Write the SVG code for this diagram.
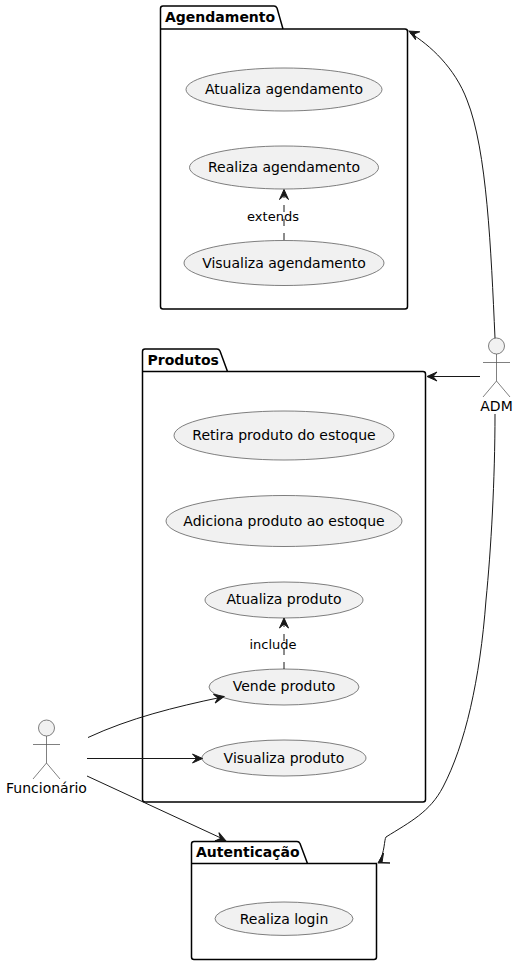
<svg xmlns="http://www.w3.org/2000/svg" width="518" height="965" viewBox="0 0 518 965">
<style>
text{font-family:"DejaVu Sans",sans-serif;font-size:14px;fill:#000}
.pk{fill:#fff;stroke:#000;stroke-width:1.5}
.pt{font-weight:bold}
.uc{fill:#f1f1f1;stroke:#555;stroke-width:.75}
.uc-t{text-anchor:middle}
.act{fill:none;stroke:#555;stroke-width:.75}
.head{fill:#f1f1f1;stroke:#555;stroke-width:.75}
.c{fill:none;stroke:#181818;stroke-width:1}
.d{stroke-dasharray:7,7}
.l{font-size:13px;text-anchor:middle}
.ah{fill:#181818;stroke:#181818;stroke-width:1}
</style>
<defs>
<path id="tip" d="M0,0 L-10,-4.500 L-6,0 L-10,4.500 Z"/>
</defs>
<g id="pkg-agendamento">
<path class="pk" d="M163,6 H274 Q276,6 277,8 L283,29 H405 Q407.500,29 407.500,31.500 V306.500 Q407.500,309 405,309 H163 Q160.500,309 160.500,306.500 V8.500 Q160.500,6 163,6 Z M160.500,29 H283"/>
<text class="pt" x="165" y="21.500">Agendamento</text>
</g>
<g id="pkg-produtos">
<path class="pk" d="M145,349 H217 Q219,349 220,351 L227.500,371.500 H423 Q425.500,371.500 425.500,374 V799.500 Q425.500,802 423,802 H145 Q142.500,802 142.500,799.500 V351.500 Q142.500,349 145,349 Z M142.500,371.500 H227.500"/>
<text class="pt" x="147.500" y="364.500">Produtos</text>
</g>
<g id="pkg-autenticacao">
<path class="pk" d="M194,841.500 H297 Q299,841.500 300,843.500 L307.500,863.500 H376.500 V957 Q376.500,959.500 374,959.500 H194 Q191.500,959.500 191.500,957 V844 Q191.500,841.500 194,841.500 Z M191.500,863.500 H307.500"/>
<text class="pt" x="196" y="857">Autenticação</text>
</g>
<g id="uc-atualiza-agendamento"><ellipse class="uc" cx="284" cy="89.500" rx="98" ry="21.500"/><text class="uc-t" x="284" y="94">Atualiza agendamento</text></g>
<g id="uc-realiza-agendamento"><ellipse class="uc" cx="284" cy="167.500" rx="94.500" ry="21.500"/><text class="uc-t" x="284" y="172">Realiza agendamento</text></g>
<g id="uc-visualiza-agendamento"><ellipse class="uc" cx="284" cy="263" rx="100" ry="22.500"/><text class="uc-t" x="284" y="267.500">Visualiza agendamento</text></g>
<g id="uc-retira"><ellipse class="uc" cx="284" cy="435.500" rx="110" ry="24.500"/><text class="uc-t" x="284" y="440">Retira produto do estoque</text></g>
<g id="uc-adiciona"><ellipse class="uc" cx="284" cy="521" rx="118" ry="25.500"/><text class="uc-t" x="284" y="526">Adiciona produto ao estoque</text></g>
<g id="uc-atualiza-produto"><ellipse class="uc" cx="284" cy="600" rx="79" ry="18"/><text class="uc-t" x="284" y="604">Atualiza produto</text></g>
<g id="uc-vende"><ellipse class="uc" cx="284" cy="687" rx="75" ry="18"/><text class="uc-t" x="284" y="691">Vende produto</text></g>
<g id="uc-visualiza-produto"><ellipse class="uc" cx="284" cy="758" rx="82" ry="18"/><text class="uc-t" x="284" y="762.500">Visualiza produto</text></g>
<g id="uc-login"><ellipse class="uc" cx="284" cy="918.700" rx="69" ry="16.700"/><text class="uc-t" x="284" y="923.500">Realiza login</text></g>
<g id="actor-adm">
<circle class="head" cx="496.500" cy="346" r="8"/>
<path class="act" d="M496.500,354 V381 M483,362.500 H510 M496.500,381 L483,397 M496.500,381 L510,397"/>
<text x="496.500" y="411" text-anchor="middle">ADM</text>
</g>
<g id="actor-funcionario">
<circle class="head" cx="46.500" cy="728" r="8"/>
<path class="act" d="M46.500,736 V763 M33,744.500 H60 M46.500,763 L33,779 M46.500,763 L60,779"/>
<text x="46.500" y="793" text-anchor="middle">Funcionário</text>
</g>
<g id="connectors">
<path class="c" d="M495,338 C491,250 487,150 467,100 C455,68 430,45 410,33"/>
<use href="#tip" class="ah" transform="translate(409,31) rotate(208)"/>
<path class="c" d="M480,376.500 H432"/>
<use href="#tip" class="ah" transform="translate(427,376.500) rotate(180)"/>
<path class="c" d="M495,414 C495,480 491,550 486,600 C480,680 465,745 443,787 C430,812 410,822 386,837 C384,840 385,852 379,862"/>
<path class="ah" d="M378,863 L383.500,853 L382,862.500 L390,863 Z"/>
<path class="c d" d="M284,240 V195"/>
<use href="#tip" class="ah" transform="translate(284,189.500) rotate(-90)"/>
<text class="l" x="273" y="220.500">extends</text>
<path class="c d" d="M284,669 V624"/>
<use href="#tip" class="ah" transform="translate(284,618) rotate(-90)"/>
<text class="l" x="273" y="649">include</text>
<path class="c" d="M88,737.500 C130,718 175,707 220,697.500"/>
<use href="#tip" class="ah" transform="translate(224,696.500) rotate(-12)"/>
<path class="c" d="M87,758.500 H198"/>
<use href="#tip" class="ah" transform="translate(202.500,758.500)"/>
<path class="c" d="M87,776 L222,838.500"/>
<use href="#tip" class="ah" transform="translate(226,841) rotate(25)"/>
</g>
</svg>
